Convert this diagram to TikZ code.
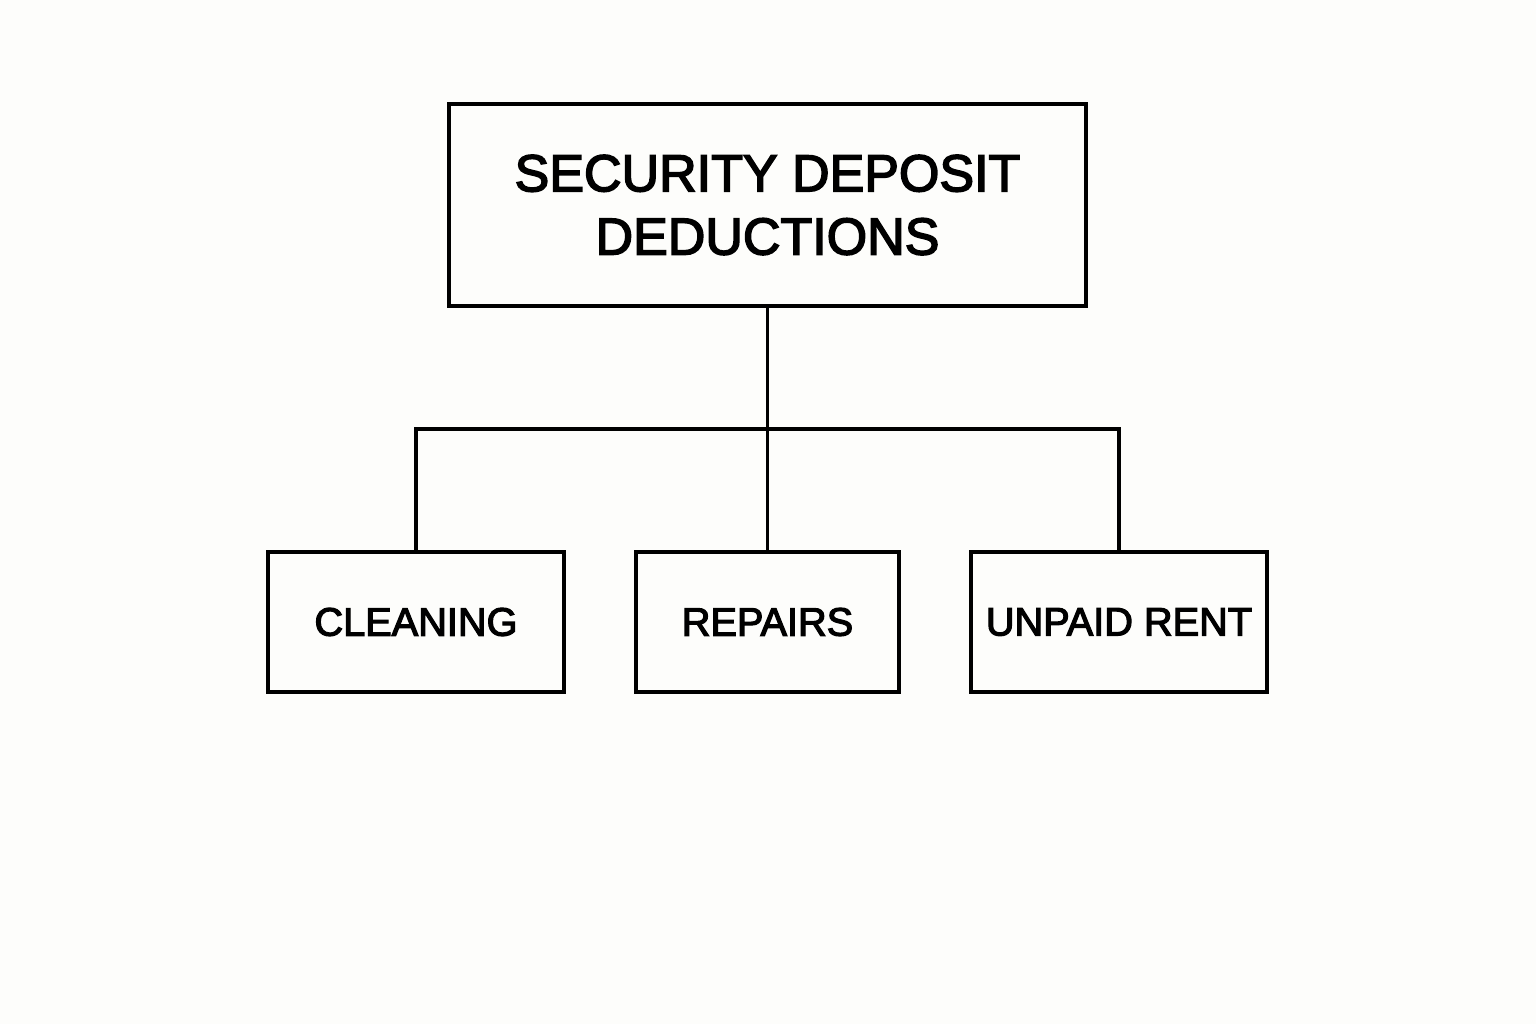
\documentclass[tikz,border=0pt]{standalone}
\usepackage{fontspec}
\setmainfont{Liberation Sans}
\newfontfamily\labelfont{Liberation Sans}[FakeBold=3]
\usepackage{tikz}
\usetikzlibrary{positioning}

\definecolor{paper}{RGB}{253,253,251}

\tikzset{
  box/.style={draw,line width=1.1pt,align=center,inner sep=0pt,outer sep=0pt},
  link/.style={line width=1.1pt}
}

\begin{document}
\begin{tikzpicture}
\fill[paper] (0,0) rectangle (15.36,10.24);
\useasboundingbox (0,0) rectangle (15.36,10.24);

\path (7.675,8.19) node[box,minimum width=6.37cm,minimum height=2.02cm,font=\labelfont\fontsize{14.8}{18}\selectfont] (D) {SECURITY DEPOSIT\\DEDUCTIONS};

\path (4.16,4.02)  node[box,minimum width=2.96cm,minimum height=1.40cm,font=\labelfont\fontsize{11.3}{14}\selectfont] (C) {CLEANING};
\path (7.675,4.02) node[box,minimum width=2.63cm,minimum height=1.40cm,font=\labelfont\fontsize{11.3}{14}\selectfont] (R) {REPAIRS};
\path (11.19,4.02) node[box,minimum width=2.96cm,minimum height=1.40cm,font=\labelfont\fontsize{11.3}{14}\selectfont] (U) {UNPAID RENT};

\coordinate (J) at (7.675,5.95);

\draw[link] (D) -- (R);
\draw[link] (C) |- (J) -| (U);
\end{tikzpicture}
\end{document}
